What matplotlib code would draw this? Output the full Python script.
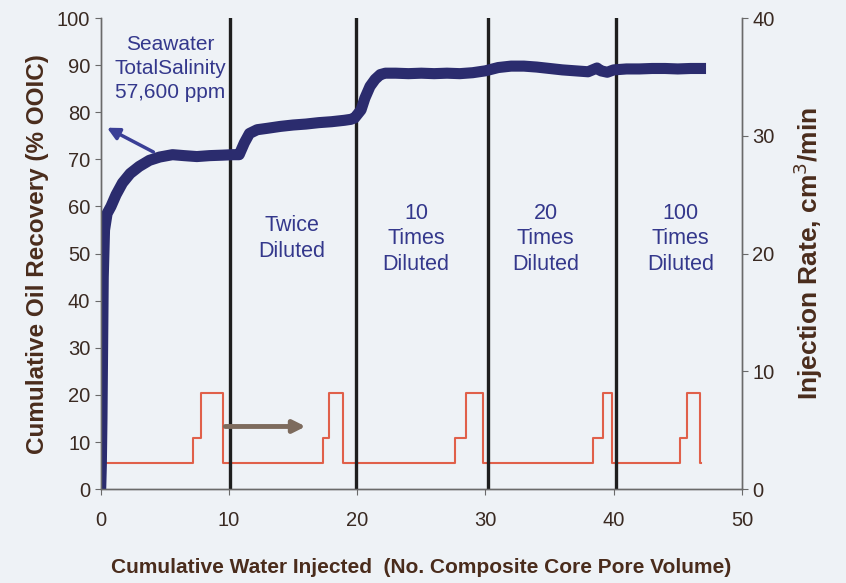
'Oil recovery vs injected water, with injection rate on a second axis'
import matplotlib
matplotlib.use('Agg')
import matplotlib.pyplot as plt

# cumulative oil recovery (% OOIC) vs pore volumes injected
pv = [0, 0.05, 0.1, 0.15, 0.2, 0.3, 0.5, 0.8, 1.2, 1.7, 2.3, 3.0, 3.8, 4.6,
      5.6, 6.5, 7.5, 8.5, 9.5, 10.3, 10.8, 11.2, 11.6, 12.2, 13, 14, 15, 16,
      17, 18, 19, 19.5, 19.8, 20.3, 20.6, 21.0, 21.4, 21.8, 22.2, 23, 24, 25,
      26, 27, 28, 29, 30, 31, 32, 33, 34, 35, 36, 37, 38, 38.7, 39, 39.5, 40,
      41, 42, 43, 44, 45, 46, 47.2]
recovery = [0, 5, 15, 30, 45, 55, 58.5, 60, 62.5, 65, 67, 68.5, 69.8, 70.5,
            71, 70.8, 70.6, 70.8, 70.9, 71, 71, 73.5, 75.5, 76.3, 76.6, 77,
            77.3, 77.5, 77.8, 78, 78.3, 78.5, 78.8, 80.5, 83, 85.5, 87, 88,
            88.3, 88.3, 88.2, 88.3, 88.2, 88.3, 88.2, 88.4, 88.8, 89.5, 89.8,
            89.8, 89.6, 89.3, 89, 88.8, 88.6, 89.4, 88.8, 88.5, 89, 89.2,
            89.2, 89.3, 89.3, 89.2, 89.3, 89.3]

# injection rate (cm3/min), step changes
rate_pv = [0, 7.2, 7.85, 9.5, 17.35, 17.8, 18.9, 27.6, 28.5, 29.8,
           38.35, 39.2, 39.9, 45.2, 45.7, 46.7, 46.8]
rate = [2.2, 4.3, 8.2, 2.2, 4.3, 8.2, 2.2, 4.3, 8.2, 2.2,
        4.3, 8.2, 2.2, 4.3, 8.2, 2.2, 2.2]

# brine switch points and labels
switches = [10.1, 19.9, 30.2, 40.2]
stage_x = [14.9, 24.6, 34.7, 45.2]
stage_labels = ['Twice\nDiluted', '10\nTimes\nDiluted', '20\nTimes\nDiluted',
                '100\nTimes\nDiluted']

plt.rcParams['font.family'] = ['Liberation Sans', 'DejaVu Sans']

bg = '#eef2f6'
navy = '#2b2c6e'
txt_blue = '#34388c'
brown = '#4a2c1c'
tick_col = '#3a2a22'

fig = plt.figure(figsize=(8.46, 5.83), dpi=100, facecolor=bg)
ax = fig.add_axes([0.119, 0.161, 0.758, 0.808])
ax2 = ax.twinx()
ax.set_zorder(ax2.get_zorder() + 1)
ax.patch.set_visible(False)
ax2.set_facecolor(bg)

ax2.plot(rate_pv, rate, drawstyle='steps-post', color='#e0604a', lw=1.5)
ax.plot(pv, recovery, color=navy, lw=8, solid_capstyle='butt')

for s in switches:
    ax.axvline(s, color='#1e1e1e', lw=2.4, zorder=1)

ax.text(5.4, 89.3, 'Seawater\nTotalSalinity\n57,600 ppm', ha='center',
        va='center', fontsize=15, color=txt_blue, linespacing=1.35)
for x, lab in zip(stage_x, stage_labels):
    ax.text(x, 53.2, lab, ha='center', va='center', fontsize=15.5,
            color=txt_blue, linespacing=1.28)

ax.annotate('', xy=(0.3, 77), xytext=(4.3, 71.3),
            arrowprops=dict(arrowstyle='-|>', color='#3a3f96', lw=2.5,
                            mutation_scale=18))
ax.annotate('', xy=(16.2, 13.3), xytext=(9.5, 13.3),
            arrowprops=dict(arrowstyle='-|>', color='#7d6b5d', lw=3.5,
                            mutation_scale=18))

ax.set_xlim(0, 50)
ax.set_ylim(0, 100)
ax2.set_ylim(0, 40)
ax.set_xticks(range(0, 51, 10))
ax.set_yticks(range(0, 101, 10))
ax2.set_yticks(range(0, 41, 10))

ax.set_xlabel('Cumulative Water Injected  (No. Composite Core Pore Volume)',
              fontsize=15, fontweight='bold', color=brown, labelpad=20)
ax.set_ylabel('Cumulative Oil Recovery (% OOIC)', fontsize=17.5,
              fontweight='bold', color=brown, labelpad=6)
ax2.set_ylabel('Injection Rate, cm$^3$/min', fontsize=19, fontweight='bold',
               color=brown, labelpad=12)

for a in (ax, ax2):
    a.spines['top'].set_visible(False)
    for sp in ('left', 'right', 'bottom'):
        a.spines[sp].set_color('#6a6a6a')
        a.spines[sp].set_linewidth(1.0)
    a.tick_params(labelsize=14.5, colors='#6a6a6a', labelcolor=tick_col,
                  length=4, direction='out')
ax.tick_params(axis='x', pad=12)

fig.savefig('out.png', dpi=100, facecolor=bg)
